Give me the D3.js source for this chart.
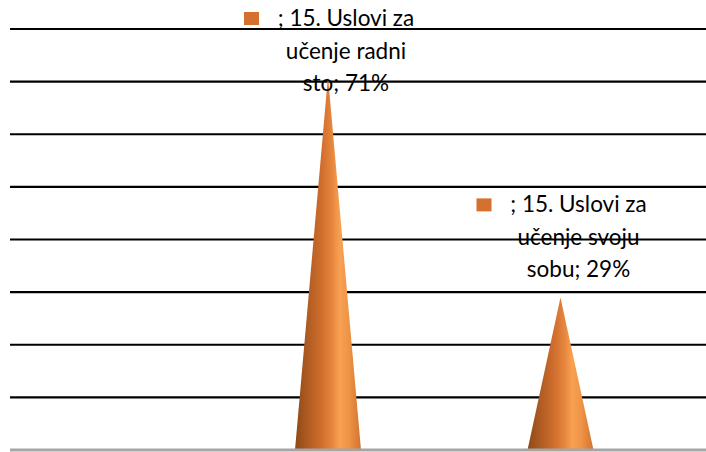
<!DOCTYPE html>
<html>
<head>
<meta charset="utf-8">
<script src="https://cdn.jsdelivr.net/npm/d3@7"></script>
<style>
html,body{margin:0;padding:0;background:#fff;}
svg{display:block;}
text{font-family:Lato, "Open Sans", sans-serif;}
</style>
</head>
<body>
<svg id="chart" width="706" height="452"></svg>
<script>
const categories = ["15. Uslovi za učenje radni sto", "15. Uslovi za učenje svoju sobu"];
const values = [0.71, 0.29];
const labelLines = [
  ["; 15. Uslovi za", "učenje radni", "sto; 71%"],
  ["; 15. Uslovi za", "učenje svoju", "sobu; 29%"]
];
const yTicks = [0, 0.1, 0.2, 0.3, 0.4, 0.5, 0.6, 0.7, 0.8];

const W = 706, H = 452;
const svg = d3.select("#chart");

const x = d3.scalePoint().domain(categories).range([328, 560.5]);
const y = d3.scaleLinear().domain([0, 0.8]).range([450, 29]);
const halfBase = 33;

const defs = svg.append("defs");
const grad = defs.append("linearGradient").attr("id", "coneGrad")
  .attr("x1", "0%").attr("x2", "100%").attr("y1", "0%").attr("y2", "0%");
[[0, "#8f4817"], [0.18, "#ad5a22"], [0.4, "#cf6e2d"], [0.55, "#e5843c"],
 [0.68, "#f8a152"], [0.82, "#ee9345"], [1, "#d2732f"]]
  .forEach(([o, c]) => grad.append("stop").attr("offset", o).attr("stop-color", c));

// gridlines
svg.append("g").selectAll("line")
  .data(yTicks.filter(d => d > 0))
  .join("line")
  .attr("x1", 10).attr("x2", W)
  .attr("y1", d => y(d)).attr("y2", d => y(d))
  .attr("stroke", "#000").attr("stroke-width", 2.2);

// cones
svg.append("g").selectAll("path")
  .data(categories)
  .join("path")
  .attr("d", (c, i) => {
    const cx = x(c);
    return `M${cx - halfBase},${y(0)} L${cx},${y(values[i])} L${cx + halfBase},${y(0)} Z`;
  })
  .attr("fill", "url(#coneGrad)");

// baseline
svg.append("line")
  .attr("x1", 10).attr("x2", W).attr("y1", y(0)).attr("y2", y(0))
  .attr("stroke", "#a6a6a6").attr("stroke-width", 3);

// labels
const lineH = 32.5;
const minLastBaseline = 26 + 2 * lineH;
const lg = svg.append("g");
categories.forEach((c, i) => {
  const cx = x(c);
  const last = Math.max(y(values[i]) - 20, minLastBaseline);
  const first = last - 2 * lineH;
  const tx = cx + 18;
  const g = lg.append("g");
  labelLines[i].forEach((t, k) => {
    g.append("text")
      .attr("x", tx).attr("y", first + k * lineH)
      .attr("text-anchor", "middle")
      .attr("font-size", 22.5)
      .attr("fill", "#000")
      .text(t);
  });
  g.append("rect")
    .attr("x", cx - 84).attr("y", first - 14)
    .attr("width", 15).attr("height", 13)
    .attr("fill", "#d5712e");
});
</script>
</body>
</html>
